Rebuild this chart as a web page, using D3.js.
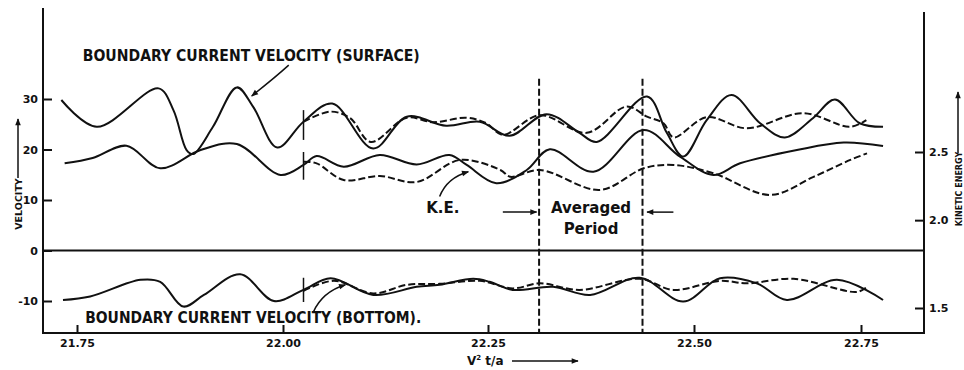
<!DOCTYPE html>
<html>
<head>
<meta charset="utf-8">
<script src="https://cdn.jsdelivr.net/npm/d3@7"></script>
<style>
  body { margin: 0; background: #fff; }
  svg { display: block; font-family: "DejaVu Sans", sans-serif; font-weight: bold; }
</style>
</head>
<body>
<div class="chart"></div>
<script>
// tick values
const xTicks = [21.75, 22.00, 22.25, 22.50, 22.75];
const velTicks = [-10, 0, 10, 20, 30];
const keTicks = [1.5, 2.0, 2.5];

// boundary current velocity (surface) - [V^2 t/a, velocity]
const surfaceSolid = [
  [21.731,29.8],[21.774,24.5],[21.849,32.1],[21.867,27.8],[21.883,19.9],[21.891,19.1],
  [21.915,24.5],[21.944,32.3],[21.964,28.4],[21.993,20.4],[22.025,25.5],[22.060,29.1],
  [22.110,20.2],[22.151,26.5],[22.199,24.7],[22.240,25.5],[22.276,22.7],[22.321,27.0],
  [22.361,23.3],[22.382,21.5],[22.443,30.5],[22.467,23.3],[22.487,18.6],[22.519,25.8],
  [22.556,30.8],[22.599,25.2],[22.636,22.4],[22.678,26.2],[22.711,29.9],[22.748,25.2],
  [22.783,24.5]
];
const surfaceDashed = [
  [22.025,25.5],[22.058,27.5],[22.082,26.2],[22.107,21.5],[22.151,26.3],[22.183,25.4],
  [22.224,26.3],[22.248,25.2],[22.268,22.9],[22.313,26.8],[22.370,23.3],[22.418,28.5],
  [22.443,26.5],[22.463,25.2],[22.475,22.4],[22.519,26.4],[22.579,24.2],[22.663,27.2],
  [22.733,24.5],[22.758,25.8]
];

// kinetic energy - [V^2 t/a, K.E.]
const keSolid = [
  [21.735,2.409],[21.769,2.452],[21.810,2.552],[21.851,2.370],[21.900,2.516],[21.944,2.566],
  [21.997,2.319],[22.025,2.396],[22.041,2.467],[22.074,2.383],[22.118,2.476],[22.163,2.400],
  [22.203,2.476],[22.224,2.396],[22.260,2.257],[22.297,2.357],[22.325,2.522],[22.378,2.344],
  [22.439,2.687],[22.483,2.462],[22.529,2.319],[22.569,2.409],[22.654,2.516],[22.724,2.579],
  [22.783,2.550]
];
const keDashed = [
  [22.025,2.422],[22.041,2.409],[22.074,2.281],[22.118,2.311],[22.163,2.266],[22.216,2.436],
  [22.265,2.357],[22.277,2.305],[22.313,2.357],[22.386,2.208],[22.439,2.370],[22.475,2.396],
  [22.529,2.332],[22.614,2.172],[22.679,2.305],[22.734,2.436],[22.759,2.489]
];

// boundary current velocity (bottom)
const bottomSolid = [
  [21.733,-9.8],[21.766,-9.1],[21.827,-5.8],[21.851,-6.2],[21.879,-11.1],[21.904,-8.8],
  [21.948,-4.7],[21.989,-10.0],[22.025,-7.8],[22.058,-5.5],[22.110,-8.8],[22.163,-7.2],
  [22.191,-6.8],[22.232,-5.6],[22.252,-6.2],[22.280,-7.8],[22.329,-7.2],[22.374,-8.8],
  [22.434,-5.4],[22.487,-10.1],[22.539,-5.5],[22.594,-6.5],[22.639,-9.8],[22.714,-5.8],
  [22.783,-9.8]
];
const bottomDashed = [
  [22.025,-8.0],[22.062,-6.0],[22.110,-8.5],[22.151,-6.8],[22.191,-6.6],[22.240,-6.0],
  [22.280,-7.5],[22.313,-6.5],[22.361,-7.8],[22.434,-5.6],[22.475,-7.8],[22.539,-6.0],
  [22.579,-6.5],[22.649,-5.6],[22.744,-8.2],[22.759,-7.2]
];

// averaged period bounds, start of dashed runs
const periodBounds = [22.312, 22.4375];
const runStart = 22.025;

const dims = { width: 964, height: 370, left: 43, right: 924, top: 8, topRight: 12, bottom: 333 };

const x = d3.scaleLinear().domain(xTicks).range([77, 283, 488, 694, 861]);
const yVel = d3.scaleLinear().domain([-10, 30]).range([301, 99]);
const yKE = d3.scaleLog().domain([1.5, 2.5]).range([308, 152]);

const svg = d3.select('.chart').append('svg')
  .attr('width', dims.width)
  .attr('height', dims.height);

svg.append('rect').attr('width', dims.width).attr('height', dims.height).attr('fill', '#fff');

const defs = svg.append('defs');
defs.append('marker')
  .attr('id', 'head')
  .attr('viewBox', '0 0 10 10')
  .attr('refX', 9).attr('refY', 5)
  .attr('markerWidth', 8).attr('markerHeight', 7)
  .attr('markerUnits', 'userSpaceOnUse')
  .attr('orient', 'auto')
  .append('path').attr('d', 'M0,1 L10,5 L0,9 z').attr('fill', '#111');

const ink = '#111';

// frame
const frame = svg.append('g').attr('stroke', ink).attr('stroke-width', 2).attr('fill', 'none');
frame.append('line').attr('x1', dims.left).attr('x2', dims.left).attr('y1', dims.top).attr('y2', dims.bottom);
frame.append('line').attr('x1', dims.right).attr('x2', dims.right).attr('y1', dims.topRight).attr('y2', dims.bottom);
frame.append('line').attr('x1', dims.left - 1).attr('x2', dims.right + 1).attr('y1', dims.bottom).attr('y2', dims.bottom);
frame.append('line').attr('x1', dims.left).attr('x2', dims.right).attr('y1', yVel(0)).attr('y2', yVel(0));

// axes
const leftAxis = svg.append('g')
  .attr('transform', `translate(${dims.left},0)`)
  .call(d3.axisLeft(yVel).tickValues(velTicks).tickSize(-9).tickPadding(5));

const rightAxis = svg.append('g')
  .attr('transform', `translate(${dims.right},0)`)
  .call(d3.axisRight(yKE).tickValues(keTicks).tickSize(-9).tickPadding(5).tickFormat(d3.format('.1f')));

const bottomAxis = svg.append('g')
  .attr('transform', `translate(0,${dims.bottom})`)
  .call(d3.axisBottom(x).tickValues(xTicks).tickSize(-8).tickPadding(6).tickFormat(d3.format('.2f')));

for (const ax of [leftAxis, rightAxis, bottomAxis]) {
  ax.select('.domain').remove();
  ax.selectAll('.tick line').attr('stroke', ink).attr('stroke-width', 2);
  ax.selectAll('.tick text').attr('fill', ink).attr('font-size', 11).attr('font-weight', 'bold')
    .attr('font-family', '"DejaVu Sans", sans-serif');
}
leftAxis.selectAll('.tick text').text(d => d < 0 ? '-' + Math.abs(d) : d);

// curves
const velLine = d3.line().x(d => x(d[0])).y(d => yVel(d[1])).curve(d3.curveCatmullRom.alpha(0.5));
const keLine = d3.line().x(d => x(d[0])).y(d => yKE(d[1])).curve(d3.curveCatmullRom.alpha(0.5));

const curves = svg.append('g').attr('fill', 'none').attr('stroke', ink).attr('stroke-width', 2)
  .attr('stroke-linejoin', 'round');

curves.append('path').attr('d', velLine(surfaceSolid));
curves.append('path').attr('d', velLine(surfaceDashed)).attr('stroke-dasharray', '7,3');
curves.append('path').attr('d', keLine(keSolid));
curves.append('path').attr('d', keLine(keDashed)).attr('stroke-dasharray', '7,3');
curves.append('path').attr('d', velLine(bottomSolid));
curves.append('path').attr('d', velLine(bottomDashed)).attr('stroke-dasharray', '7,3');

// short marks where the dashed runs branch off
const marks = svg.append('g').attr('stroke', ink).attr('stroke-width', 1.5);
marks.append('line').attr('x1', x(runStart)).attr('x2', x(runStart)).attr('y1', yVel(27.8)).attr('y2', yVel(21.9));
marks.append('line').attr('x1', x(runStart)).attr('x2', x(runStart)).attr('y1', yKE(2.5)).attr('y2', yKE(2.283));
marks.append('line').attr('x1', x(runStart)).attr('x2', x(runStart)).attr('y1', yVel(-5.4)).attr('y2', yVel(-10.2));

// averaged period
svg.append('g').selectAll('line')
  .data(periodBounds)
  .enter()
  .append('line')
  .attr('x1', d => x(d)).attr('x2', d => x(d))
  .attr('y1', yVel(34)).attr('y2', dims.bottom)
  .attr('stroke', ink).attr('stroke-width', 2)
  .attr('stroke-dasharray', '7,3');

const notes = svg.append('g').attr('fill', ink);

const arrow = (p0, c, p1, yS) => {
  const path = d3.path();
  path.moveTo(x(p0[0]), yS(p0[1]));
  path.quadraticCurveTo(x(c[0]), yS(c[1]), x(p1[0]), yS(p1[1]));
  notes.append('path').attr('d', path.toString())
    .attr('fill', 'none').attr('stroke', ink).attr('stroke-width', 1.5)
    .attr('marker-end', 'url(#head)');
};

arrow([22.007, 36.7], [21.990, 34.2], [21.962, 30.6], yVel);
arrow([22.191, 10.7], [22.200, 14.4], [22.226, 15.6], yVel);
arrow([22.037, -12.2], [22.048, -8.2], [22.076, -6.8], yVel);
arrow([22.268, 7.6], [22.290, 7.6], [22.309, 7.6], yVel);
arrow([22.475, 7.6], [22.460, 7.6], [22.443, 7.6], yVel);

notes.append('text')
  .attr('x', x(21.757)).attr('y', yVel(37.5))
  .attr('font-size', 16).attr('textLength', 337).attr('lengthAdjust', 'spacingAndGlyphs')
  .text('BOUNDARY CURRENT VELOCITY (SURFACE)');

notes.append('text')
  .attr('x', x(21.760)).attr('y', yVel(-14.4))
  .attr('font-size', 16).attr('textLength', 336).attr('lengthAdjust', 'spacingAndGlyphs')
  .text('BOUNDARY CURRENT VELOCITY (BOTTOM).');

notes.append('text')
  .attr('x', x(22.195)).attr('y', yVel(7.4)).attr('text-anchor', 'middle')
  .attr('font-size', 15)
  .text('K.E.');

notes.append('text')
  .attr('x', x(22.375)).attr('y', yVel(7.4)).attr('text-anchor', 'middle')
  .attr('font-size', 15)
  .text('Averaged');

notes.append('text')
  .attr('x', x(22.375)).attr('y', yVel(3.3)).attr('text-anchor', 'middle')
  .attr('font-size', 15)
  .text('Period');

// axis titles
const xLabel = svg.append('text')
  .attr('x', 467).attr('y', 365)
  .attr('font-size', 12).attr('fill', ink);
xLabel.append('tspan').text('V');
xLabel.append('tspan').attr('font-size', 7).attr('dy', -5).text('2');
xLabel.append('tspan').attr('dy', 5).text(' t/a');

svg.append('line')
  .attr('x1', 512).attr('x2', 578).attr('y1', 361).attr('y2', 361)
  .attr('stroke', ink).attr('stroke-width', 1.5).attr('marker-end', 'url(#head)');

svg.append('text')
  .attr('transform', 'translate(18,204) rotate(-90)')
  .attr('text-anchor', 'middle').attr('dominant-baseline', 'central')
  .attr('font-size', 9.5).attr('fill', ink)
  .text('VELOCITY');

svg.append('line')
  .attr('x1', 18).attr('x2', 18).attr('y1', 178).attr('y2', 119)
  .attr('stroke', ink).attr('stroke-width', 1.5).attr('marker-end', 'url(#head)');

svg.append('text')
  .attr('transform', 'translate(959,189) rotate(-90)')
  .attr('text-anchor', 'middle').attr('dominant-baseline', 'central')
  .attr('font-size', 8).attr('fill', ink)
  .text('KINETIC ENERGY');

svg.append('line')
  .attr('x1', 958).attr('x2', 958).attr('y1', 153).attr('y2', 92)
  .attr('stroke', ink).attr('stroke-width', 1.5).attr('marker-end', 'url(#head)');
</script>
</body>
</html>
